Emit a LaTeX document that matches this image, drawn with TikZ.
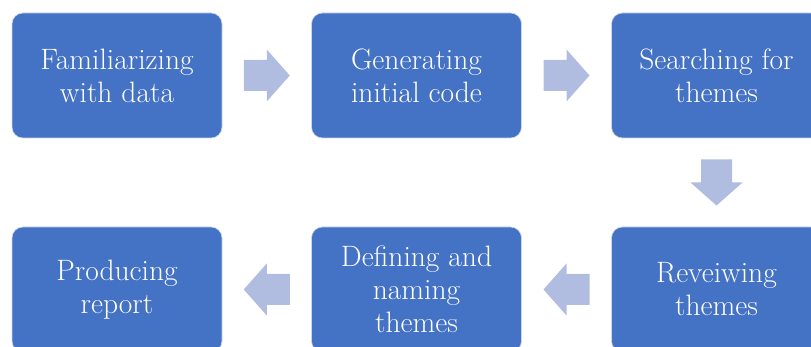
\documentclass[tikz,border=0pt]{standalone}
\usetikzlibrary{calc}
\definecolor{boxblue}{RGB}{68,114,196}
\definecolor{arrowblue}{RGB}{176,189,224}
\begin{document}
\begin{tikzpicture}[x=1pt,y=1pt,
  stepbox/.style={rectangle, rounded corners=11pt, fill=boxblue, draw=white!70!boxblue, line width=0.6pt,
    minimum width=210pt, minimum height=125pt, inner sep=0pt, align=center, text=white,
    font=\fontsize{29.5}{33}\selectfont},
  blockarrow/.style={fill=arrowblue}]
\useasboundingbox (0,0) rectangle (811,347);
\clip (0,0) rectangle (811,347);
\node[stepbox] (b1) at (117,271.5) {Familiarizing\\with data};
\node[stepbox] (b2) at (416.5,271.5) {Generating\\initial code};
\node[stepbox] (b3) at (716.5,271.5) {Searching for\\themes};
\node[stepbox] (b4) at (716.5,57.5) {Reveiwing\\themes};
\node[stepbox] (b5) at (416.5,57.5) {Defining and\\naming\\themes};
\node[stepbox] (b6) at (117,57.5) {Producing\\report};
\foreach \a/\b/\r in {b1/b2/0, b2/b3/0, b3/b4/-90, b4/b5/180, b5/b6/180}
  \fill[blockarrow, shift={($(\a)!0.5!(\b)$)}, rotate=\r]
    (-23,-15.5) -- (0,-15.5) -- (0,-26) -- (23,0) -- (0,26) -- (0,15.5) -- (-23,15.5) -- cycle;
\end{tikzpicture}
\end{document}
